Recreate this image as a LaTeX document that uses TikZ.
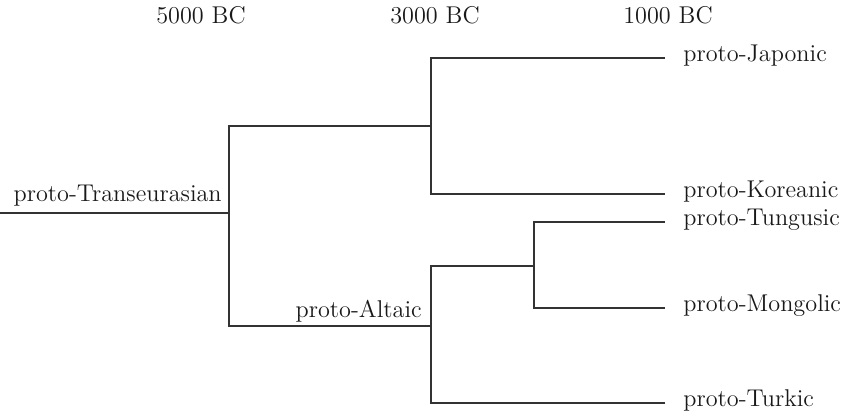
\documentclass[tikz,border=0pt]{standalone}
\usepackage{tikz}

\begin{document}
\begin{tikzpicture}[x=0.02cm,y=-0.02cm,
  branch/.style={line width=0.9pt,draw=black!80},
  lang/.style={anchor=mid west,inner xsep=0.36cm,inner ysep=0pt,text=black!90,font=\fontsize{13.8}{16}\selectfont},
  anc/.style={anchor=base east,inner sep=0pt,text=black!90,font=\fontsize{13.8}{16}\selectfont},
  era/.style={anchor=base,inner sep=0pt,text=black!90,font=\fontsize{13.8}{16}\selectfont}]
\useasboundingbox (0,0) rectangle (850,413);
            % Dates
\node[era] (bc5) at (201,23) {5000 BC};
\node[era] (bc3) at (435,23) {3000 BC};
\node[era] (bc1) at (668,23) {1000 BC};
            % Splits
\coordinate (root) at (0,213);
\coordinate (te)   at (229,213);
\coordinate (jk)   at (431,126);
\coordinate (alt)  at (431,326);
\coordinate (tm)   at (534,266);
            % Languages
\node[lang] (japonic)  at (665,58 ) {proto-Japonic};
\node[lang] (koreanic) at (665,194) {proto-Koreanic};
\node[lang] (tungusic) at (665,222) {proto-Tungusic};
\node[lang] (mongolic) at (665,308) {proto-Mongolic};
\node[lang] (turkic)   at (665,403) {proto-Turkic};
\node[anc] (transeurasian) at (222,201) {proto-Transeurasian};
\node[anc] (altaic)        at (422,317) {proto-Altaic};
%Tree
\draw[branch] (root) -- (te);
\draw[branch] (jk) -| (te) |- (alt);
\draw[branch] (japonic.mid west) -| (jk) |- (koreanic.mid west);
\draw[branch] (tm) -| (alt) |- (turkic.mid west);
\draw[branch] (tungusic.mid west) -| (tm) |- (mongolic.mid west);
\end{tikzpicture}
\end{document}
